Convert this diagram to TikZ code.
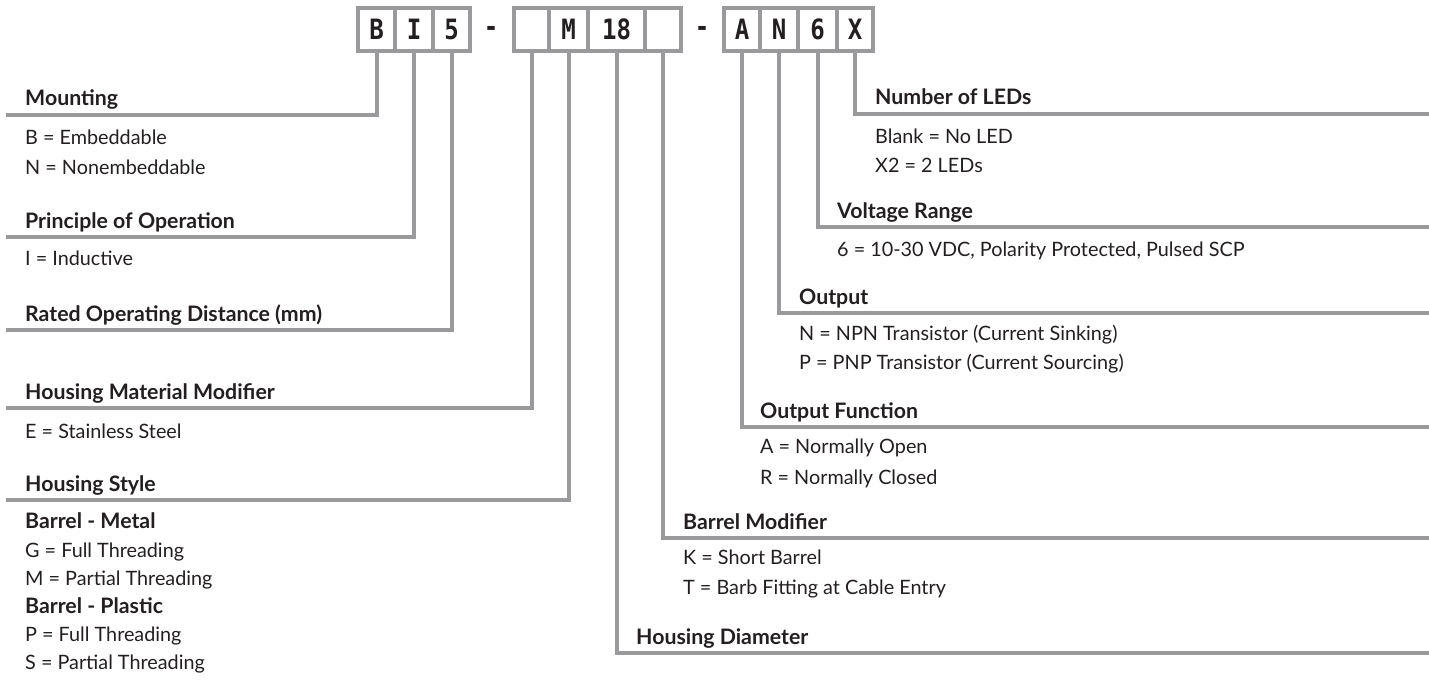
\documentclass[tikz,border=0pt]{standalone}
\usepackage{fontspec}
\setmainfont{Lato}
\newfontfamily\boxfont[FakeStretch=0.86]{DejaVu Sans Mono}
\definecolor{lg}{HTML}{9A9A9C}
\definecolor{ink}{HTML}{231F20}
\begin{document}
\begin{tikzpicture}[x=1pt,y=-1pt,
  code/.style={draw=lg, line width=4pt, fill=white, minimum height=43pt, inner sep=0pt,
    font=\boxfont\bfseries\fontsize{28}{28}\selectfont, text=ink},
  dashmark/.style={inner sep=0pt, font=\boxfont\bfseries\fontsize{28}{28}\selectfont, text=ink},
  lead/.style={draw=lg, line width=4pt},
  head/.style={anchor=base west, inner sep=0pt, font=\bfseries\fontsize{21.3}{23}\selectfont, text=ink},
  item/.style={anchor=base west, inner sep=0pt, font=\fontsize{19.8}{22}\selectfont, text=ink}]
\useasboundingbox (0,0) rectangle (1429,690);

% line end points
\coordinate (eMount) at (6,115);
\coordinate (ePrin) at (6,237);
\coordinate (eRated) at (6,330);
\coordinate (eHMM) at (6,408);
\coordinate (eHS) at (6,500);
\coordinate (eHD) at (1429,653);
\coordinate (eBM) at (1429,538);
\coordinate (eOF) at (1429,427);
\coordinate (eOut) at (1429,313);
\coordinate (eVR) at (1429,227);
\coordinate (eLED) at (1429,114);

% code boxes
\node[code, minimum width=37pt] (bB) at (376.5,29.5) {B};
\node[code, minimum width=38pt] (bI) at (414,29.5) {I};
\node[code, minimum width=37pt] (b5) at (451.5,29.5) {5};
\node[dashmark] (d1) at (491,31) {-};
\node[code, minimum width=35pt] (bE) at (531.5,29.5) {};
\node[code, minimum width=39pt] (bM) at (568.5,29.5) {M};
\node[code, minimum width=57pt] (b18) at (616.5,29.5) {18};
\node[code, minimum width=36pt] (bK) at (663,29.5) {};
\node[dashmark] (d2) at (702,31) {-};
\node[code, minimum width=36pt] (bA) at (742,29.5) {A};
\node[code, minimum width=38pt] (bN) at (779,29.5) {N};
\node[code, minimum width=39pt] (b6) at (817.5,29.5) {6};
\node[code, minimum width=36pt] (bX) at (855,29.5) {X};

% connectors
\draw[lead] (bB.south) |- (eMount);
\draw[lead] (bI.south) |- (ePrin);
\draw[lead] (b5.south) |- (eRated);
\draw[lead] (bE.south) |- (eHMM);
\draw[lead] (bM.south) |- (eHS);
\draw[lead] (b18.south) |- (eHD);
\draw[lead] (bK.south) |- (eBM);
\draw[lead] (bA.south) |- (eOF);
\draw[lead] (bN.south) |- (eOut);
\draw[lead] (b6.south) |- (eVR);
\draw[lead] (bX.south) |- (eLED);

% left texts
\node[head] (hMount) at (25,106) {Mounting};
\node[item] (iB) at (25,144) {B = Embeddable};
\node[item] (iN) at (25,175) {N = Nonembeddable};
\node[head] (hPrin) at (25,228) {Principle of Operation};
\node[item] (iI) at (25,265) {I = Inductive};
\node[head] (hRated) at (25,321) {Rated Operating Distance (mm)};
\node[head] (hHMM) at (25,399) {Housing Material Modifier};
\node[item] (iE) at (25,438) {E = Stainless Steel};
\node[head] (hHS) at (25,491) {Housing Style};
\node[head] (sMetal) at (25,528) {Barrel - Metal};
\node[item] (iG) at (25,557) {G = Full Threading};
\node[item] (iMp) at (25,585) {M = Partial Threading};
\node[head] (sPlastic) at (25,613) {Barrel - Plastic};
\node[item] (iP) at (25,641) {P = Full Threading};
\node[item] (iS) at (25,669) {S = Partial Threading};

% right texts
\node[head] (hLED) at (875,105) {Number of LEDs};
\node[item] (iBlank) at (875,143) {Blank = No LED};
\node[item] (iX2) at (875,172) {X2 = 2 LEDs};
\node[head] (hVR) at (837,218) {Voltage Range};
\node[item] (i6) at (837,256) {6 = 10-30 VDC, Polarity Protected, Pulsed SCP};
\node[head] (hOut) at (799,304) {Output};
\node[item] (iNPN) at (799,340) {N = NPN Transistor (Current Sinking)};
\node[item] (iPNP) at (799,369) {P = PNP Transistor (Current Sourcing)};
\node[head] (hOF) at (760,418) {Output Function};
\node[item] (iNO) at (760,453) {A = Normally Open};
\node[item] (iNC) at (760,484) {R = Normally Closed};
\node[head] (hBM) at (683,529) {Barrel Modifier};
\node[item] (iShort) at (683,564) {K = Short Barrel};
\node[item] (iBarb) at (683,594) {T = Barb Fitting at Cable Entry};
\node[head] (hHD) at (636,644) {Housing Diameter};
\end{tikzpicture}
\end{document}
